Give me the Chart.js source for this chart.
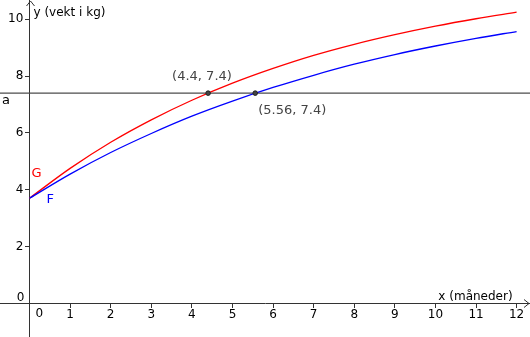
<!DOCTYPE html>
<html>
<head>
<meta charset="utf-8">
<script src="https://cdn.jsdelivr.net/npm/chart.js@4/dist/chart.umd.min.js"></script>
<style>
  html, body { margin: 0; padding: 0; background: #fff; }
  #wrap { width: 530px; height: 337px; }
</style>
</head>
<body>
<div id="wrap"><canvas id="c"></canvas></div>
<script>
// Weight (kg) against age in months for the two models
const months  = [0, 1, 2, 3, 4, 5, 6, 7, 8, 9, 10, 11, 12];
const weightF = [3.7, 4.55, 5.31, 5.98, 6.59, 7.12, 7.60, 8.03, 8.42, 8.76, 9.06, 9.33, 9.57];
const weightG = [3.7, 4.75, 5.67, 6.46, 7.15, 7.75, 8.27, 8.73, 9.12, 9.46, 9.76, 10.02, 10.25];

// Horizontal line a and where the curves cross it
const levelA = 7.4;
const crossX = [4.4, 5.56];
const crossY = [7.4, 7.4];

// Axis ticks and window
const xTickValues = [0, 1, 2, 3, 4, 5, 6, 7, 8, 9, 10, 11, 12];
const yTickValues = [0, 2, 4, 6, 8, 10];
const xRange = [-0.727, 12.33];
const yRange = [-1.187, 10.68];

const FONT = 'DejaVu Sans';
const AXIS = '#333333';

const toPoints = (xs, ys) => xs.map((x, i) => ({ x, y: ys[i] }));

// Axes cross inside the plot, so they should not shrink the plot area
const noEdgePadding = (s) => {
  s.paddingLeft = s.paddingRight = s.paddingTop = s.paddingBottom = 0;
};

// Arrows, zero labels and text annotations placed through the scales
const decorations = {
  id: 'decorations',
  afterDraw(chart) {
    const { ctx } = chart;
    const xs = chart.scales.x, ys = chart.scales.y;
    const ox = Math.round(xs.getPixelForValue(0)) + 0.5;
    const oy = Math.round(ys.getPixelForValue(0)) + 0.5;
    ctx.save();
    ctx.strokeStyle = AXIS;
    ctx.lineWidth = 1;
    // arrow heads at the ends of the axes
    ctx.beginPath();
    ctx.moveTo(ox - 4, 6); ctx.lineTo(ox, 1); ctx.lineTo(ox + 4, 6);
    ctx.moveTo(chart.width - 6, oy - 4); ctx.lineTo(chart.width - 1, oy); ctx.lineTo(chart.width - 6, oy + 4);
    ctx.stroke();

    ctx.textBaseline = 'middle';
    const text = (s, x, y, color, align) => {
      ctx.fillStyle = color; ctx.textAlign = align || 'left'; ctx.fillText(s, x, y);
    };
    ctx.font = '12px "' + FONT + '"';
    // zero labels beside the origin
    text('0', ox + 5, oy + 10, '#000');
    text('0', ox - 6, oy - 6, '#000', 'right');
    // axis titles
    text('y (vekt i kg)', ox + 3, 13, '#000');
    text('x (måneder)', xs.getPixelForValue(12) - 4, oy - 7, '#000', 'right');
    // line and curve names
    ctx.font = '13px "' + FONT + '"';
    text('a', 2, ys.getPixelForValue(levelA) + 7, '#000');
    text('G', xs.getPixelForValue(0.05), ys.getPixelForValue(4.58), '#ff0000');
    text('F', xs.getPixelForValue(0.42), ys.getPixelForValue(3.65), '#0000ff');
    // coordinates of the crossings
    text('(' + crossX[0] + ', ' + crossY[0] + ')', xs.getPixelForValue(crossX[0]) - 36, ys.getPixelForValue(crossY[0]) - 17, '#444444');
    text('(' + crossX[1] + ', ' + crossY[1] + ')', xs.getPixelForValue(crossX[1]) + 3, ys.getPixelForValue(crossY[1]) + 17, '#444444');
    ctx.restore();
  }
};

new Chart(document.getElementById('c'), {
  type: 'line',
  data: {
    datasets: [
      {
        label: 'a',
        data: toPoints(xRange, [levelA, levelA]),
        borderColor: '#4d4d4d',
        borderWidth: 1.2,
        pointRadius: 0,
        order: 3
      },
      {
        label: 'F',
        data: toPoints(months, weightF),
        borderColor: '#0000ff',
        borderWidth: 1.3,
        pointRadius: 0,
        cubicInterpolationMode: 'monotone',
        order: 2
      },
      {
        label: 'G',
        data: toPoints(months, weightG),
        borderColor: '#ff0000',
        borderWidth: 1.3,
        pointRadius: 0,
        cubicInterpolationMode: 'monotone',
        order: 2
      },
      {
        label: 'skjæring',
        data: toPoints(crossX, crossY),
        showLine: false,
        pointRadius: 2.3,
        pointBackgroundColor: '#444444',
        pointBorderColor: '#222222',
        pointBorderWidth: 1,
        order: 1
      }
    ]
  },
  options: {
    responsive: true,
    maintainAspectRatio: false,
    animation: false,
    events: [],
    layout: { padding: 0, autoPadding: false },
    plugins: { legend: { display: false }, tooltip: { enabled: false } },
    scales: {
      x: {
        type: 'linear',
        min: xRange[0],
        max: xRange[1],
        position: { y: 0 },
        afterBuildTicks: (s) => { s.ticks = xTickValues.map(v => ({ value: v })); },
        afterFit: noEdgePadding,
        grid: { drawOnChartArea: false, drawTicks: true, tickLength: 4, color: AXIS },
        border: { color: AXIS, width: 1 },
        ticks: {
          color: '#000',
          font: { family: FONT, size: 12 },
          padding: 0,
          maxRotation: 0,
          autoSkip: false,
          callback: (v) => (v === 0 ? '' : v)
        }
      },
      y: {
        type: 'linear',
        min: yRange[0],
        max: yRange[1],
        position: { x: 0 },
        afterBuildTicks: (s) => { s.ticks = yTickValues.map(v => ({ value: v })); },
        afterFit: noEdgePadding,
        grid: { drawOnChartArea: false, drawTicks: true, tickLength: 4, color: AXIS },
        border: { color: AXIS, width: 1 },
        ticks: {
          color: '#000',
          font: { family: FONT, size: 12 },
          padding: 0,
          autoSkip: false,
          // trailing spaces keep the labels clear of the tick marks
          callback: (v) => (v === 0 ? '' : v + ' \u2009')
        }
      }
    }
  },
  plugins: [decorations]
});
</script>
</body>
</html>
